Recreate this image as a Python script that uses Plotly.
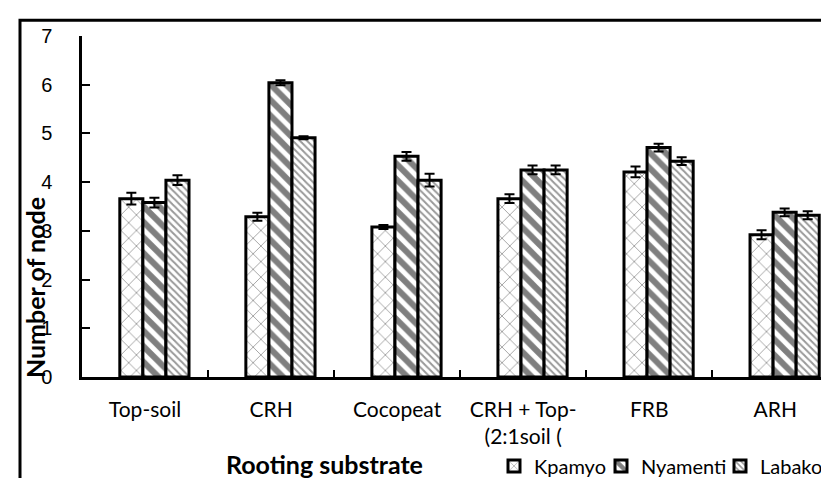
import plotly.graph_objects as go

categories = ["Top-soil", "CRH", "Cocopeat", "CRH + Top-<br>(2:1soil (", "FRB", "ARH"]
kpamyo = [3.66, 3.29, 3.08, 3.66, 4.21, 2.92]
nyamenti = [3.58, 6.04, 4.53, 4.25, 4.71, 3.38]
labako = [4.04, 4.91, 4.04, 4.25, 4.43, 3.32]
kpamyo_err = [0.12, 0.08, 0.04, 0.09, 0.11, 0.09]
nyamenti_err = [0.10, 0.05, 0.09, 0.09, 0.08, 0.08]
labako_err = [0.10, 0.03, 0.13, 0.09, 0.08, 0.08]
y_ticks = [0, 1, 2, 3, 4, 5, 6, 7]

W, H = 829, 478
L, R, T, B = 74, 0, 28, 105
pw, ph = W - L - R, H - T - B


def px_x(p):
    return (p - L) / pw


def px_y(p):
    return (T + ph - p) / ph


series = [
    ("Kpamyo", kpamyo, kpamyo_err,
     dict(shape="x", fgcolor="#333333", bgcolor="white", size=11, solidity=0.15), -0.20, "legend", 486),
    ("Nyamenti", nyamenti, nyamenti_err,
     dict(shape="\\", fgcolor="black", bgcolor="white", size=11, solidity=0.55), -0.017, "legend2", 593),
    ("Labako", labako, labako_err,
     dict(shape="\\", fgcolor="#333333", bgcolor="white", size=5, solidity=0.4), 0.166, "legend3", 712),
]

fig = go.Figure()
legend_layout = {}
for name, vals, errs, pat, off, lg, lgx in series:
    fig.add_trace(go.Bar(
        x=categories, y=vals, name=name, legend=lg,
        offset=off, width=0.183,
        marker=dict(color="white", pattern=pat, line=dict(color="black", width=3)),
        error_y=dict(type="data", array=errs, visible=True, color="black", thickness=2, width=5),
    ))
    legend_layout[lg] = dict(orientation="h", x=px_x(lgx), xanchor="left", y=px_y(463), yanchor="middle",
                             font=dict(family="Lato", size=20, color="black"),
                             itemwidth=30, bgcolor="rgba(0,0,0,0)", borderwidth=0)

fig.update_layout(
    width=W, height=H,
    margin=dict(l=L, r=R, t=T, b=B, pad=0),
    plot_bgcolor="white", paper_bgcolor="white",
    barmode="overlay",
    font=dict(family="Lato", size=20, color="black"),
    showlegend=True,
    xaxis=dict(type="category", range=[-0.5, 5.49], showline=True, linecolor="black", linewidth=2.5,
               ticks="inside", tickson="boundaries", ticklen=7, tickwidth=2, tickcolor="black",
               tickfont=dict(family="Lato", size=21, color="black"), ticklabelstandoff=12,
               showgrid=False, zeroline=False),
    yaxis=dict(range=[0, 7], tickvals=y_ticks, showline=True, linecolor="black", linewidth=2.5,
               ticks="inside", ticklen=8, tickwidth=2, tickcolor="black",
               tickfont=dict(family="Liberation Sans", size=20, color="black"),
               ticklabelstandoff=23, showgrid=False, zeroline=False),
    **legend_layout,
)

# outer frame
fig.add_shape(type="rect", xref="paper", yref="paper",
              x0=px_x(12), x1=1.2, y0=-0.6, y1=px_y(12),
              line=dict(color="black", width=3), fillcolor="rgba(0,0,0,0)", layer="above")

fig.add_annotation(text="<b>Number of node</b>", textangle=-90, showarrow=False,
                   xref="paper", yref="paper", x=px_x(27), y=px_y(283),
                   xanchor="center", yanchor="middle",
                   font=dict(family="Lato", size=25, color="black"))
fig.add_annotation(text="<b>Rooting substrate</b>", showarrow=False,
                   xref="paper", yref="paper", x=px_x(316), y=px_y(461),
                   xanchor="center", yanchor="middle",
                   font=dict(family="Lato", size=25, color="black"))

fig.write_html("out.html")
